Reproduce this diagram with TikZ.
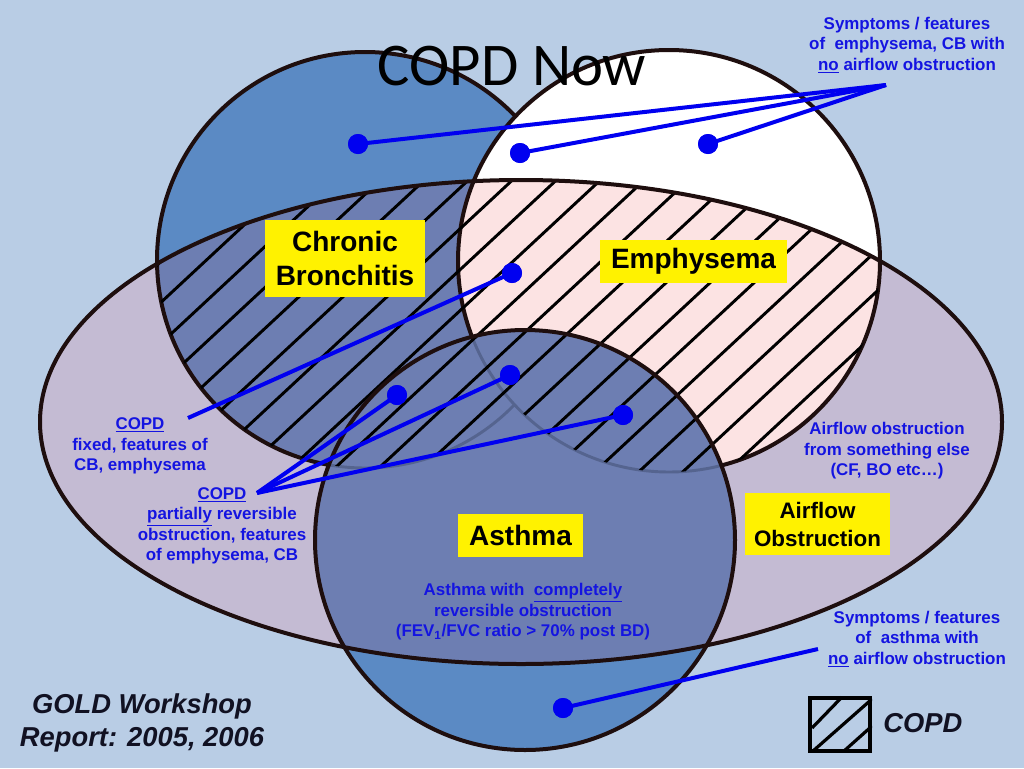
\documentclass[tikz,border=0pt]{standalone}
\usepackage{fontspec}
\setmainfont{Liberation Sans}
\newfontfamily\titlefont{Carlito}
\definecolor{bgc}{HTML}{B9CDE5}
\definecolor{cbblue}{HTML}{5B8AC4}
\definecolor{slate}{HTML}{6D7EB2}
\definecolor{lav}{HTML}{C4BBD3}
\definecolor{pinkc}{HTML}{FCE3E3}
\definecolor{edge}{HTML}{1E0E0E}
\definecolor{faint}{HTML}{55648F}
\definecolor{txtblue}{HTML}{1414E1}
\definecolor{conblue}{HTML}{0000F0}
\definecolor{darktxt}{HTML}{111122}
\begin{document}
\begin{tikzpicture}[x=0.75pt,y=-0.75pt,
  outl/.style={draw=edge,line width=3pt},
  faintl/.style={draw=faint,line width=2.2pt},
  hatchl/.style={draw=black,line width=2.2pt},
  bluetxt/.style={text=txtblue,font=\fontsize{12.7}{15.4}\selectfont\bfseries,align=center,inner sep=0pt},
  ylab/.style={fill=yellow,text=black,font=\fontsize{21}{25.5}\selectfont\bfseries,align=center,inner sep=0pt},
  dot/.style={circle,fill=conblue,minimum size=15pt,inner sep=0pt},
  con/.style={draw=conblue,line width=3pt}]
\useasboundingbox (0,0) rectangle (1024,768);
\fill[bgc] (0,0) rectangle (1024,768);
% airflow obstruction ellipse
\fill[lav] (521,422) ellipse [x radius=481,y radius=242];
% chronic bronchitis
\fill[cbblue] (365,260) circle [radius=208];
\begin{scope}
  \clip (521,422) ellipse [x radius=481,y radius=242];
  \fill[slate] (365,260) circle [radius=208];
\end{scope}
\draw[outl] (365,260) circle [radius=208];
% emphysema
\fill[white] (669,261) circle [radius=211];
\begin{scope}
  \clip (521,422) ellipse [x radius=481,y radius=242];
  \fill[pinkc] (669,261) circle [radius=211];
\end{scope}
\draw[outl] (669,261) circle [radius=211];
% asthma
\fill[cbblue] (525,540) circle [radius=210];
\begin{scope}
  \clip (521,422) ellipse [x radius=481,y radius=242];
  \fill[slate] (525,540) circle [radius=210];
  \clip (525,540) circle [radius=210];
  \draw[faintl] (365,260) circle [radius=208];
  \fill[slate] (669,261) circle [radius=211];
  \draw[faintl] (669,261) circle [radius=211];
\end{scope}
% hatching (COPD)
\begin{scope}
  \clip (521,422) ellipse [x radius=481,y radius=242];
  \clip (365,260) circle [radius=208] (669,261) circle [radius=211];
  \foreach \k in {-24,...,24}{
    \draw[hatchl] ({330+44*\k},800) -- ++(860,-800);
  }
\end{scope}
\draw[outl] (521,422) ellipse [x radius=481,y radius=242];
\draw[outl] (525,540) circle [radius=210];
% title
\node[anchor=base,inner sep=0pt,text=black,font=\fontsize{45.5}{50}\selectfont\titlefont] (title) at (512,85) {COPD Now};
% connectors
\node[dot] (d1) at (358,144) {};
\node[dot] (d2) at (520,153) {};
\node[dot] (d3) at (708,144) {};
\node[dot] (d4) at (512,273) {};
\node[dot] (d5) at (397,395) {};
\node[dot] (d6) at (510,375) {};
\node[dot] (d7) at (623,415) {};
\node[dot] (d8) at (563,708) {};
\coordinate (t1) at (886,85);
\coordinate (t2) at (188,418);
\coordinate (t3) at (257,493);
\coordinate (t4) at (818,649);
\draw[con] (d1.center) -- (t1);
\draw[con] (d2.center) -- (t1);
\draw[con] (d3.center) -- (t1);
\draw[con] (d4.center) -- (t2);
\draw[con] (d5.center) -- (t3);
\draw[con] (d6.center) -- (t3);
\draw[con] (d7.center) -- (t3);
\draw[con] (d8.center) -- (t4);
\node[dot] at (d1) {};\node[dot] at (d2) {};\node[dot] at (d3) {};\node[dot] at (d4) {};
\node[dot] at (d5) {};\node[dot] at (d6) {};\node[dot] at (d7) {};\node[dot] at (d8) {};
% yellow labels
\node[ylab,minimum width=120pt,minimum height=58pt] (cb) at (345,258.5) {Chronic\\Bronchitis};
\node[ylab,minimum width=140pt,minimum height=32pt] (em) at (693.5,261.5) {Emphysema};
\node[ylab,minimum width=94pt,minimum height=32pt] (as) at (520.5,535.5) {Asthma};
\node[ylab,minimum width=109pt,minimum height=46.5pt,font=\fontsize{16.8}{21}\selectfont\bfseries] (ao) at (817.5,524) {Airflow\\Obstruction};
% blue texts
\node[bluetxt] (s1) at (907,45) {Symptoms / features\\of~ emphysema, CB with\\\underline{no} airflow obstruction};
\node[bluetxt] (c1) at (140,446) {\underline{COPD}\\fixed, features of\\CB, emphysema};
\node[bluetxt] (c2) at (222,526) {\underline{COPD}\\\underline{partially} reversible\\obstruction, features\\of emphysema, CB};
\node[bluetxt] (a1) at (887,451) {Airflow obstruction\\from something else\\(CF, BO etc…)};
\node[bluetxt] (a2) at (523,612) {Asthma with~ \underline{completely}\\reversible obstruction\\(FEV\textsubscript{1}/FVC ratio > 70\% post BD)};
\node[bluetxt] (s2) at (917,639) {Symptoms / features\\of~ asthma with\\\underline{no} airflow obstruction};
% GOLD
\node[align=center,inner sep=0pt,text=darktxt,font=\fontsize{20.5}{24.8}\selectfont\bfseries\itshape] (gold) at (142,723) {GOLD Workshop\\Report: 2005, 2006};
% legend
\node[draw=black,line width=3pt,minimum width=45pt,minimum height=40pt,inner sep=0pt] (leg) at (840,724.5) {};
\begin{scope}
  \clip (leg.south west) rectangle (leg.north east);
  \draw[line width=2.4pt] (812,728) -- (842,697);
  \draw[line width=2.4pt] (813,751) -- (872,699);
  \draw[line width=2.4pt] (844,751) -- (872,726);
\end{scope}
\node[anchor=west,inner sep=0pt,text=darktxt,font=\fontsize{20.5}{24}\selectfont\bfseries\itshape] (legt) at (883,723) {COPD};
\end{tikzpicture}
\end{document}
